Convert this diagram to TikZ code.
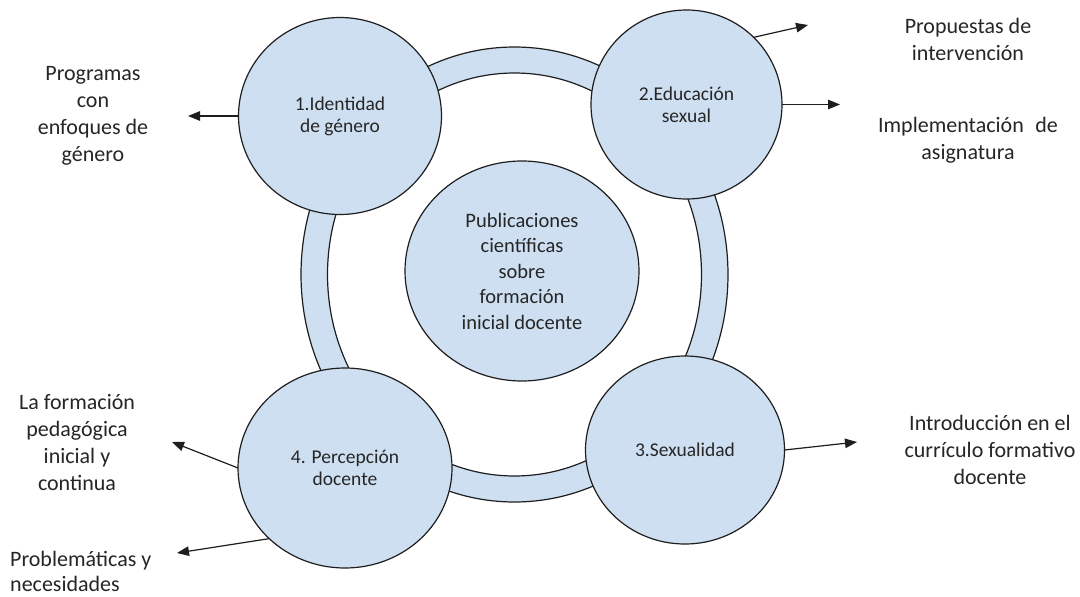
\documentclass[tikz,border=0pt]{standalone}
\usepackage{fontspec}
\setmainfont{Carlito}
\usetikzlibrary{arrows.meta,shapes.geometric}
\definecolor{cfill}{RGB}{206,223,241}
\definecolor{cline}{RGB}{30,30,30}
\definecolor{ctext}{RGB}{38,38,38}
\begin{document}
\begin{tikzpicture}[x=1pt,y=-1pt,
 bub/.style={ellipse,draw=cline,fill=cfill,line width=1.2pt,inner sep=0pt,outer sep=0pt,align=center,text=ctext,font=\fontsize{19.5}{22}\selectfont},
 lbl/.style={align=center,text=ctext,font=\fontsize{22}{27}\selectfont,inner sep=0pt},
 arr/.style={draw=cline,line width=1.2pt,-{Triangle[length=12pt,width=9.5pt]}}]
\useasboundingbox (0,0) rectangle (1080,597);
\fill[white] (0,0) rectangle (1080,597);
% ring
\draw[draw=cline,fill=cfill,line width=1.2pt,even odd rule]
  (514.5,274.5) ellipse [x radius=213.5pt,y radius=227.5pt]
  (514.5,274.5) ellipse [x radius=187pt,y radius=201.5pt];
% bubbles
\node[bub,minimum width=203pt,minimum height=197pt] (c1) at (340,116) {1.Identidad\\de género};
\node[bub,minimum width=191pt,minimum height=189pt] (c2) at (686.5,104.5) {2.Educación\\sexual};
\node[bub,minimum width=199pt,minimum height=188pt] (c3) at (685,450) {3.Sexualidad};
\node[bub,minimum width=214pt,minimum height=200pt] (c4) at (345,468) {4. Percepción\\docente};
\node[bub,font=\fontsize{20.5}{25.5}\selectfont,minimum width=234pt,minimum height=220pt] (c0) at (522,271) {Publicaciones\\científicas\\sobre\\formación\\inicial docente};
% arrow tips
\coordinate (t1) at (188,116);
\coordinate (t2a) at (808,25);
\coordinate (t2b) at (840,104.5);
\coordinate (t3) at (857,442);
\coordinate (t4a) at (172,442);
\coordinate (t4b) at (177,553);
\draw[arr] (c1.west) -- (t1);
\draw[arr] (c2.45) -- (t2a);
\draw[arr] (c2.east) -- (t2b);
\draw[arr] (c3.east) -- (t3);
\draw[arr] (c4.west) -- (t4a);
\draw[arr] (c4.223) -- (t4b);
% labels
\node[lbl] (l1) at (93,116) {Programas\\con\\enfoques de\\género};
\node[lbl] (l2a) at (968,39) {Propuestas de\\intervención};
\node[lbl] (l2b) at (968,140) {Implementación\hspace{0.3em} de\\asignatura};
\node[lbl] (l3) at (990,450) {Introducción en el\\currículo formativo\\docente};
\node[lbl] (l4a) at (77,443) {La formación\\pedagógica\\inicial y\\continua};
\node[lbl,align=left,anchor=west,font=\fontsize{22}{25}\selectfont] (l4b) at (10,571) {Problemáticas y\\necesidades};
\end{tikzpicture}
\end{document}
